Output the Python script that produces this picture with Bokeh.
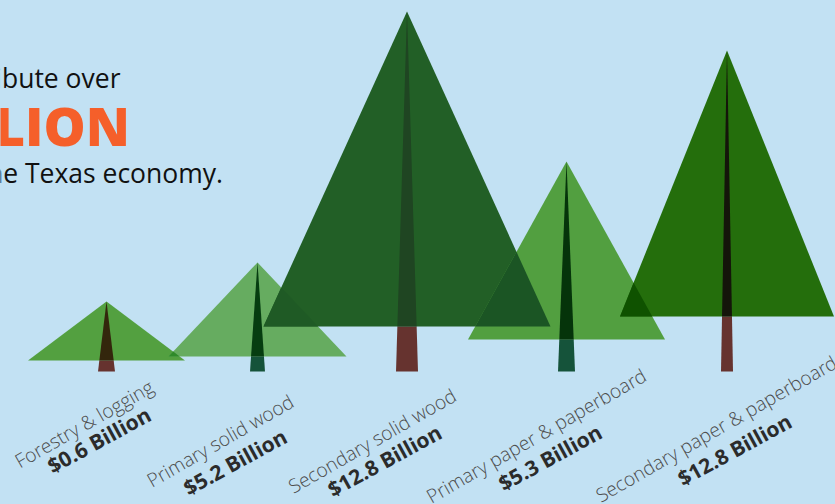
from bokeh.plotting import figure
from bokeh.embed import file_html
from bokeh.resources import INLINE
from bokeh.core.properties import value

W, H = 835, 504
GROUND = 371  # pixel row of the ground line

# Chart data
categories = ["Forestry & logging", "Primary solid wood", "Secondary solid wood",
              "Primary paper & paperboard", "Secondary paper & paperboard"]
billions = ["$0.6 Billion", "$5.2 Billion", "$12.8 Billion", "$5.3 Billion", "$12.8 Billion"]
tree_center = [106.5, 257.5, 407, 566.5, 727]
tree_height = [70, 109, 360, 210, 321]
crown_base = [11, 15, 45, 32, 55]
crown_spread = [157, 178, 287, 197, 214]
trunk_width = [17, 15, 22, 17, 12]

# Styles
bg = "#c2e1f3"
crown_col = ["#53a040", "#66ac60", "#225f26", "#529f40", "#246e0c"]
trunk_col = ["#66332f", "#15533a", "#66332f", "#15533a", "#66332f"]
trunk_top_col = ["#33260c", "#063d10", "#1f4522", "#05340a", "#14150a"]
overlap_col = ["#2f8a2a", "#1f5a25", "#1b5524", "#0f5200"]
label_x = [84, 220, 372, 536, 716]
label_py = [423, 440, 440, 435, 428]
value_x = [99, 235, 384.5, 550, 734.5]
value_py = [439.5, 461.5, 460, 457, 449]
ANGLE = 0.52
VALUE_ANGLE = 0.5


def clip(subject, clipper):
    """Sutherland-Hodgman clip of subject polygon by a counter-clockwise convex clipper."""
    out = subject
    for i in range(len(clipper)):
        a, b = clipper[i], clipper[(i + 1) % len(clipper)]
        side = lambda q: (b[0] - a[0]) * (q[1] - a[1]) - (b[1] - a[1]) * (q[0] - a[0])
        src, out = out, []
        for j in range(len(src)):
            s, e = src[j], src[(j + 1) % len(src)]
            ds, de = side(s), side(e)
            if ds >= 0:
                out.append(s)
            if ds * de < 0:
                t = ds / (ds - de)
                out.append((s[0] + t * (e[0] - s[0]), s[1] + t * (e[1] - s[1])))
        if not out:
            break
    return out


p = figure(width=W, height=H, x_range=(0.5, W + 0.5), y_range=(GROUND - H, GROUND),
           output_backend="svg", toolbar_location=None, min_border=0,
           background_fill_color=bg, border_fill_color=bg, outline_line_color=None)
p.axis.visible = False
p.grid.visible = False

crowns = []
for c, h, b, s in zip(tree_center, tree_height, crown_base, crown_spread):
    crowns.append([(c - s / 2, b), (c + s / 2, b), (c, h)])

p.patches([[q[0] for q in t] for t in crowns], [[q[1] for q in t] for t in crowns],
          fill_color=crown_col, line_color=None)

for i, col in enumerate(overlap_col):
    poly = clip(crowns[i], crowns[i + 1])
    if poly:
        p.patch([q[0] for q in poly], [q[1] for q in poly], fill_color=col, line_color=None)

for c, h, b, w, lo, hi in zip(tree_center, tree_height, crown_base, trunk_width, trunk_col, trunk_top_col):
    wb = w * (1 - b / h)
    p.patch([c - w / 2, c + w / 2, c + wb / 2, c - wb / 2], [0, 0, b, b], fill_color=lo, line_color=None)
    p.patch([c - wb / 2, c + wb / 2, c], [b, b, h], fill_color=hi, line_color=None)

p.text(label_x, [GROUND - y for y in label_py], text=categories, angle=ANGLE,
       text_font=value("Open Sans Light"), text_font_size="19.3px", text_color="#4d4d4d",
       text_align="center", text_baseline="middle")
p.text(value_x, [GROUND - y for y in value_py], text=billions, angle=VALUE_ANGLE,
       text_font=value("Open Sans"), text_font_style="bold", text_font_size="21px", text_color="#2b2b2b",
       text_align="center", text_baseline="middle")

p.text([120.5], [GROUND - 77], text=["contribute over"], text_font=value("Open Sans"),
       text_font_size="26.5px", text_color="#111111", text_align="right", text_baseline="alphabetic")
p.text([130], [GROUND - 125], text=["$36.7 BILLION"], text_font=value("Open Sans ExtraBold"), text_font_style="bold",
       text_font_size="53px", text_color="#f55f2a", text_align="right", text_baseline="alphabetic")
p.text([223], [GROUND - 172], text=["to the Texas economy."], text_font=value("Open Sans"),
       text_font_size="26.5px", text_color="#111111", text_align="right", text_baseline="alphabetic")

html = file_html(p, INLINE)
html = html.replace("<head>", "<head><style>html,body{margin:0!important;padding:0;background:#c2e1f3;overflow:hidden}</style>", 1)
open("out.html", "w").write(html)
